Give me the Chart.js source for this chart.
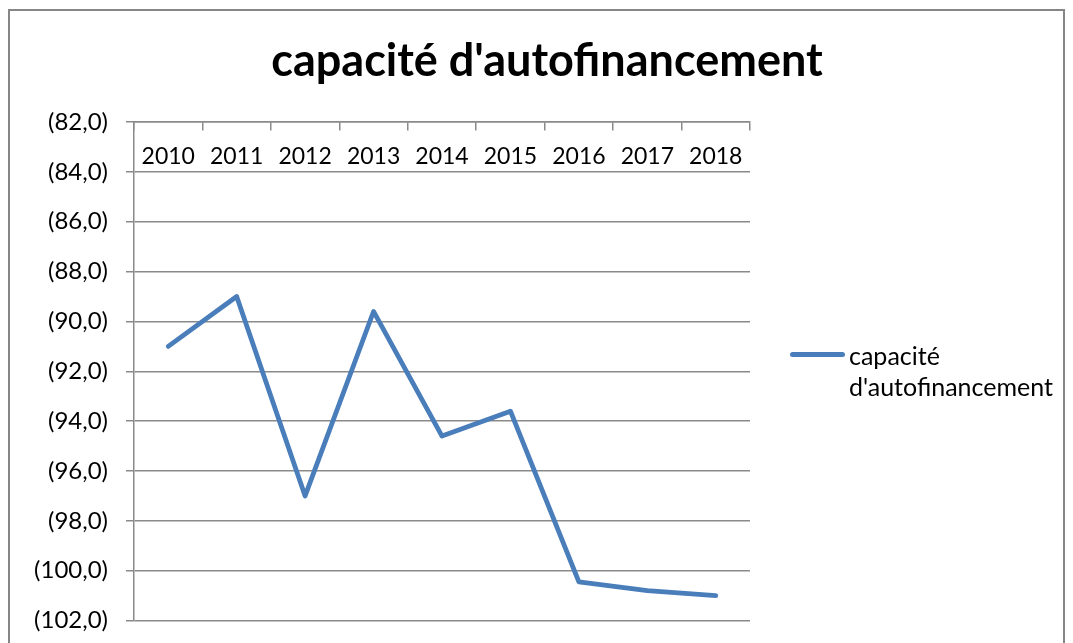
<!DOCTYPE html>
<html>
<head>
<meta charset="utf-8">
<script src="https://cdn.jsdelivr.net/npm/chart.js@4/dist/chart.umd.min.js"></script>
<style>
  html, body { margin: 0; padding: 0; background: #fff; overflow: hidden; }
  #wrap { position: relative; width: 1073px; height: 643px; overflow: hidden; }
  #frame { position: absolute; left: 8px; top: 9px; width: 1053px; height: 700px; border: 2px solid #868686; }
  #title { position: absolute; left: 0; top: 34px; width: 1094px; text-align: center;
           font: bold 45px Lato, sans-serif; color: #000; line-height: 50px; }
  #legend { position: absolute; left: 790px; top: 340px; font: 25px Lato, sans-serif; color: #000; }
  #legend .swatch { position: absolute; left: 0; top: 12px; width: 55px; height: 5px; border-radius: 3px; background: #4A7EBB; }
  #legend .text { position: absolute; left: 59px; top: 0; line-height: 31px; white-space: nowrap; }
  canvas { position: absolute; left: 0; top: 0; }
</style>
</head>
<body>
<div id="wrap">
  <div id="frame"></div>
  <!-- canvas a bit taller than the window: the plot runs past the bottom edge like in the original -->
  <canvas id="chart" width="1073" height="653"></canvas>
  <div id="title">capacité d'autofinancement</div>
  <div id="legend"><div class="swatch"></div><div class="text">capacité<br>d'autofinancement</div></div>
</div>
<script>
const years = ["2010", "2011", "2012", "2013", "2014", "2015", "2016", "2017", "2018"];
const cafValues = [-91.0, -89.0, -97.0, -89.6, -94.6, -93.6, -100.45, -100.8, -101.0];
const seriesName = "capacité d'autofinancement";
const yMin = -102;
const yMax = -82;
const yStep = 2;

const gridGray = "#8a8a8a";

// Excel style negative numbers: (82,0)
function formatParen(v) {
    const s = Math.abs(v).toFixed(1).replace(".", ",");
    return v < 0 ? "(" + s + ")" : s;
}

new Chart(document.getElementById("chart"), {
    type: "line",
    data: {
        labels: years,
        datasets: [{
            label: seriesName,
            data: cafValues,
            borderColor: "#4A7EBB",
            backgroundColor: "#4A7EBB",
            borderWidth: 4.8,
            pointRadius: 0,
            tension: 0,
            borderCapStyle: "round",
            borderJoinStyle: "round",
        }]
    },
    options: {
        responsive: false,
        animation: false,
        layout: { padding: { left: 0, top: 122, right: 323, bottom: 14 } },
        plugins: {
            legend: { display: false },
            title: { display: false },
            tooltip: { enabled: false },
        },
        scales: {
            x: {
                position: { y: yMax },
                offset: true,
                grid: {
                    offset: true,
                    drawOnChartArea: false,
                    drawTicks: true,
                    tickLength: 8,
                    color: gridGray,
                    lineWidth: 1.5,
                },
                border: { display: true, color: gridGray, width: 1.5 },
                ticks: {
                    color: "#000",
                    font: { family: "Lato", size: 23 },
                    padding: 13,
                    maxRotation: 0,
                    autoSkip: false,
                },
            },
            y: {
                min: yMin,
                max: yMax,
                afterFit: (scale) => { scale.width = 134; },
                grid: {
                    color: gridGray,
                    lineWidth: 1.5,
                    tickLength: 8,
                },
                border: { display: true, color: gridGray, width: 1.5 },
                ticks: {
                    stepSize: yStep,
                    color: "#000",
                    font: { family: "Lato", size: 24 },
                    padding: 18,
                    callback: (v) => formatParen(v),
                },
            },
        },
    },
});
</script>
</body>
</html>
